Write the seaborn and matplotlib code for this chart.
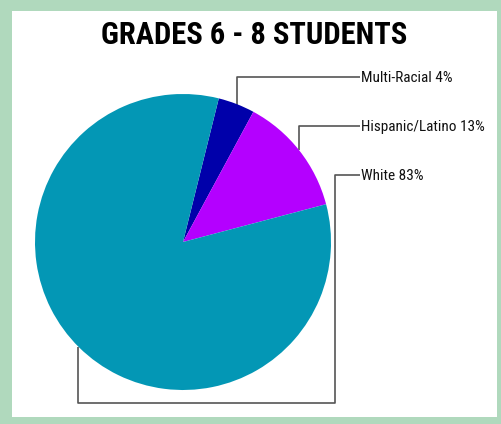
import seaborn as sns
import matplotlib.pyplot as plt
from matplotlib.patches import Rectangle

groups = ["Multi-Racial", "Hispanic/Latino", "White"]
shares = [4, 13, 83]
slice_colors = ["#0000aa", "#b400ff", "#0397b5"]

sns.set_theme(style="white")
plt.rcParams['font.family'] = ['Roboto Condensed', 'Liberation Sans Narrow', 'Roboto', 'DejaVu Sans']

W, H = 502, 424
fig = plt.figure(figsize=(W / 100, H / 100), dpi=100)
fig.patch.set_facecolor("#b0d9bd")
ax = fig.add_axes([0, 0, 1, 1])
ax.set_facecolor("none")

# white panel inside the green frame (pixel coords, y measured from the top)
ax.add_patch(Rectangle((12, H - 417), 485, 406, facecolor="white", edgecolor="none", zorder=0))

cx, cy, r = 183, H - 242, 148
ax.pie(shares, colors=slice_colors, startangle=76, counterclock=False,
       center=(cx, cy), radius=r, frame=True,
       wedgeprops=dict(linewidth=0, zorder=3))

# leader lines and labels
line_kw = dict(color="#555555", lw=1.2, zorder=2, solid_capstyle="butt")
leaders = [
    [(237, 106), (237, 77), (360, 77)],
    [(299, 150), (299, 126), (360, 126)],
    [(78, 347), (78, 403), (335, 403), (335, 175), (360, 175)],
]
for g, s, pts in zip(groups, shares, leaders):
    xs = [p[0] for p in pts]
    ys = [H - p[1] for p in pts]
    ax.plot(xs, ys, **line_kw)
    ax.text(361, ys[-1] - 1.5, f"{g} {s}%", fontsize=11, color="#111111",
            va="center", ha="left", zorder=4)

ax.text(254, H - 35, "GRADES 6 - 8 STUDENTS", fontsize=22, fontweight="bold",
        ha="center", va="center", color="black", zorder=4)

ax.set_xlim(0, W)
ax.set_ylim(0, H)
ax.set_aspect("auto")
ax.axis("off")

plt.savefig("out.png", dpi=100, facecolor=fig.get_facecolor())
plt.close()
